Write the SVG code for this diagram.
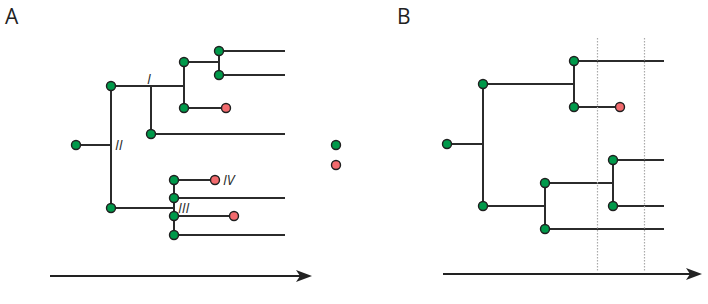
<svg xmlns="http://www.w3.org/2000/svg" width="708" height="304" viewBox="0 0 708 304">
<style>
.e{stroke:#2b2b2b;stroke-width:2;fill:none}
.g{fill:#00994a;stroke:#1f1f1f;stroke-width:1.4}
.r{fill:#f26a6d;stroke:#1f1f1f;stroke-width:1.4}
.lab{font-family:"Open Sans","Liberation Sans",sans-serif;font-size:14px;font-style:italic;fill:#2b2b2b}
.pl{font-family:"Open Sans","Liberation Sans",sans-serif;font-size:21px;fill:#222}
.dot{stroke:#aaaaaa;stroke-width:1.2;stroke-dasharray:1.5 1.5;fill:none}
.ax{stroke:#222;stroke-width:2;fill:none}
.ah{fill:#222}
</style>
<text class="pl" x="5" y="24">A</text>
<text class="pl" x="397" y="24">B</text>
<g id="connectors">
<path class="e" d="M76 145H111M111 86V208M111 86H184M151 86V134M151 134H285M184 62V108M184 62H219M219 51V75M219 51H285M219 75H285M184 108H226"/>
<path class="e" d="M111 208H174M174 180V235M174 180H215M174 198H285M174 216H234M174 235H285"/>
<path class="e" d="M447 144H483M483 84V206M483 84H574M574 61V107M574 61H664M574 107H620M483 206H545M545 183V229M545 183H613M613 160V206M613 160H664M613 206H664M545 229H664"/>
</g>
<g id="guides">
<line class="dot" x1="597.5" y1="38" x2="597.5" y2="271"/>
<line class="dot" x1="644.5" y1="38" x2="644.5" y2="271"/>
</g>
<g id="axisA">
<line class="ax" x1="50" y1="276" x2="300" y2="276"/>
<path class="ah" d="M312 276L296 270L300 276L296 282Z"/>
</g>
<g id="axisB">
<line class="ax" x1="443" y1="274" x2="690" y2="274"/>
<path class="ah" d="M702 274L686 268L690 274L686 280Z"/>
</g>
<g id="labels">
<text class="lab" x="147" y="84">I</text>
<text class="lab" x="115" y="150">II</text>
<text class="lab" x="178" y="213">III</text>
<text class="lab" x="223" y="185">IV</text>
</g>
<g id="nA_root"><circle class="g" cx="76" cy="145" r="4.5"/></g>
<g id="nA_1"><circle class="g" cx="111" cy="86" r="4.5"/></g>
<g id="nA_2"><circle class="g" cx="111" cy="208" r="4.5"/></g>
<g id="nA_3"><circle class="g" cx="151" cy="134" r="4.5"/></g>
<g id="nA_4"><circle class="g" cx="184" cy="62" r="4.5"/></g>
<g id="nA_5"><circle class="g" cx="184" cy="108" r="4.5"/></g>
<g id="nA_6"><circle class="g" cx="219" cy="51" r="4.5"/></g>
<g id="nA_7"><circle class="g" cx="219" cy="75" r="4.5"/></g>
<g id="nA_8"><circle class="r" cx="226" cy="108" r="4.5"/></g>
<g id="nA_9"><circle class="g" cx="174" cy="180" r="4.5"/></g>
<g id="nA_10"><circle class="g" cx="174" cy="198" r="4.5"/></g>
<g id="nA_11"><circle class="g" cx="174" cy="216" r="4.5"/></g>
<g id="nA_12"><circle class="g" cx="174" cy="235" r="4.5"/></g>
<g id="nA_13"><circle class="r" cx="215" cy="180" r="4.5"/></g>
<g id="nA_14"><circle class="r" cx="234" cy="216" r="4.5"/></g>
<g id="legend_g"><circle class="g" cx="336" cy="145" r="4.5"/></g>
<g id="legend_r"><circle class="r" cx="336" cy="165" r="4.5"/></g>
<g id="nB_root"><circle class="g" cx="447" cy="144" r="4.5"/></g>
<g id="nB_1"><circle class="g" cx="483" cy="84" r="4.5"/></g>
<g id="nB_2"><circle class="g" cx="483" cy="206" r="4.5"/></g>
<g id="nB_3"><circle class="g" cx="574" cy="61" r="4.5"/></g>
<g id="nB_4"><circle class="g" cx="574" cy="107" r="4.5"/></g>
<g id="nB_5"><circle class="r" cx="620" cy="107" r="4.5"/></g>
<g id="nB_6"><circle class="g" cx="545" cy="183" r="4.5"/></g>
<g id="nB_7"><circle class="g" cx="545" cy="229" r="4.5"/></g>
<g id="nB_8"><circle class="g" cx="613" cy="160" r="4.5"/></g>
<g id="nB_9"><circle class="g" cx="613" cy="206" r="4.5"/></g>
</svg>
